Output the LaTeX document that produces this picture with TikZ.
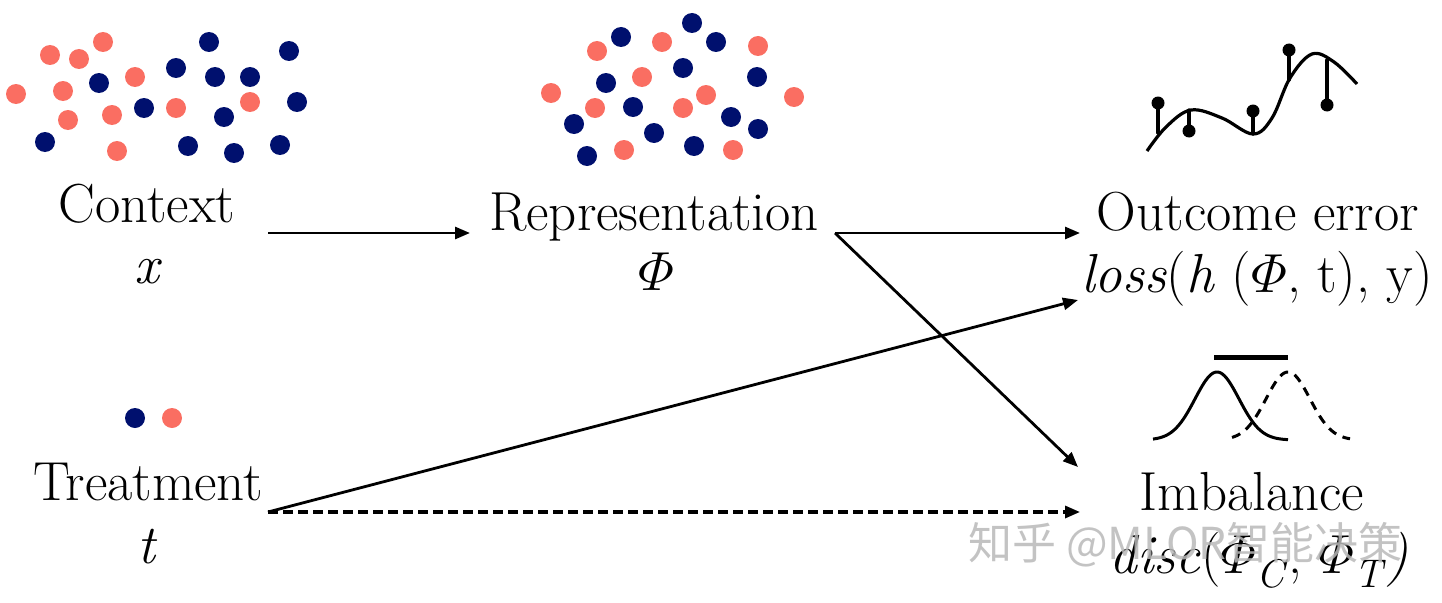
\RequirePackage{fix-cm}
\documentclass[tikz,border=0pt]{standalone}
\usepackage{amsmath}
\usepackage{fontspec}
\newfontfamily\cjk{Noto Sans CJK SC}
\usetikzlibrary{arrows.meta}
\definecolor{navy}{RGB}{0,16,110}
\definecolor{salmon}{RGB}{250,110,98}
\newcommand{\iphi}{\ensuremath{\varPhi}}
\begin{document}
\begin{tikzpicture}[x=1pt,y=-1pt,
  txt/.style={font=\fontsize{55}{60}\selectfont, anchor=base, inner sep=0pt},
  conn/.style={line width=2.8pt, -{Triangle[length=15pt,width=12pt]}},
  dconn/.style={conn, line width=3.2pt, dash pattern=on 10pt off 5pt},
  sdot/.style={fill=salmon},
  ndot/.style={fill=navy},
  curveline/.style={line width=3.2pt, line cap=round},
  ball/.style={fill=black}]
\useasboundingbox (0,0) rectangle (1442,602);

% context dots
\foreach \a/\b in {103/42,50/55,79/59,16/94,63/91,135/77,68/120,112/115,117/151,176/108,250/102}
  \path[sdot] (\a,\b) circle[radius=10pt];
\foreach \a/\b in {209/42,289/51,176/68,99/83,215/77,250/77,144/108,297/102,224/117,45/142,188/146,234/153,280/145}
  \path[ndot] (\a,\b) circle[radius=10pt];

% representation dots
\foreach \a/\b in {692/23,621/37,716/42,683/68,757/77,606/83,633/107,574/124,731/117,758/129,654/133,694/146,587/156}
  \path[ndot] (\a,\b) circle[radius=10pt];
\foreach \a/\b in {597/51,662/42,758/46,642/77,551/93,706/95,794/97,595/108,683/108,624/150,733/150}
  \path[sdot] (\a,\b) circle[radius=10pt];

% treatment dots
\path[ndot] (135,418) circle[radius=10pt];
\path[sdot] (172,418) circle[radius=10pt];

% outcome error curve
\draw[curveline] (1158,103) -- (1158,133);
\draw[curveline] (1189,131) -- (1189,110);
\draw[curveline] (1253,111) -- (1253,134);
\draw[curveline] (1289,50) -- (1289,80);
\draw[curveline] (1327,105) -- (1327,60);
\draw[curveline, line cap=butt] plot[smooth, tension=0.6] coordinates
  {(1147,151) (1166,127) (1191,110) (1222,118) (1253,134) (1272,118) (1290,78) (1312,54) (1334,62) (1357,84)};
\path[ball] (1158,103) circle[radius=6.5pt];
\path[ball] (1189,131) circle[radius=6.5pt];
\path[ball] (1253,111) circle[radius=6.5pt];
\path[ball] (1289,50) circle[radius=6.5pt];
\path[ball] (1327,105) circle[radius=6.5pt];

% imbalance gaussians
\draw[line width=3pt] plot[domain=-64:71, samples=80, smooth] ({1217+\x},{440-68*exp(-(\x/31)^2)});
\draw[line width=3pt, dash pattern=on 9pt off 7pt] plot[domain=-56:62, samples=80, smooth] ({1288+\x},{440-68*exp(-(\x/31)^2)});
\draw[line width=5pt] (1214,357) -- (1288,357);

% texts
\node[txt] (ctx) at (147,222) {Context};
\node[txt] (xv) at (148,283) {\textit{x}};
\node[txt] (rep) at (654,230) {Representation};
\node[txt] (phi) at (656,290) {\iphi};
\node[txt] (out) at (1258,230) {Outcome error};
\node[txt] (loss) at (1257,292) {\textit{loss}(\textit{h} (\iphi, t), y)};
\node[txt] (trt) at (148,500) {Treatment};
\node[txt] (tv) at (148,563) {\textit{t}};
\node[txt] (imb) at (1252,510) {Imbalance};
\node[txt] (disc) at (1259,573) {\textit{disc}(\iphi\raisebox{-14pt}{\fontsize{40}{42}\selectfont\textit{C}}, \iphi\raisebox{-14pt}{\fontsize{40}{42}\selectfont\textit{T}}\textit{)}};

% connectors
\coordinate (ctxE) at (268,233);
\coordinate (repW) at (470,233);
\coordinate (repE) at (835,233);
\coordinate (outW) at (1080,233);
\coordinate (lossW) at (1078,300);
\coordinate (imbN) at (1078,467);
\coordinate (trtE) at (268,512);
\coordinate (imbW) at (1080,512);
\draw[conn] (ctxE) -- (repW);
\draw[conn] (repE) -- (outW);
\draw[conn] (repE) -- (imbN);
\draw[conn] (trtE) -- (lossW);
\draw[dconn] (trtE) -- (imbW);

% watermark
\node[font=\cjk\fontsize{44}{48}\selectfont, text=gray!55, opacity=0.85, anchor=west, inner sep=0pt] (wm) at (968,545) {知乎 @MLOR智能决策};
\end{tikzpicture}
\end{document}
